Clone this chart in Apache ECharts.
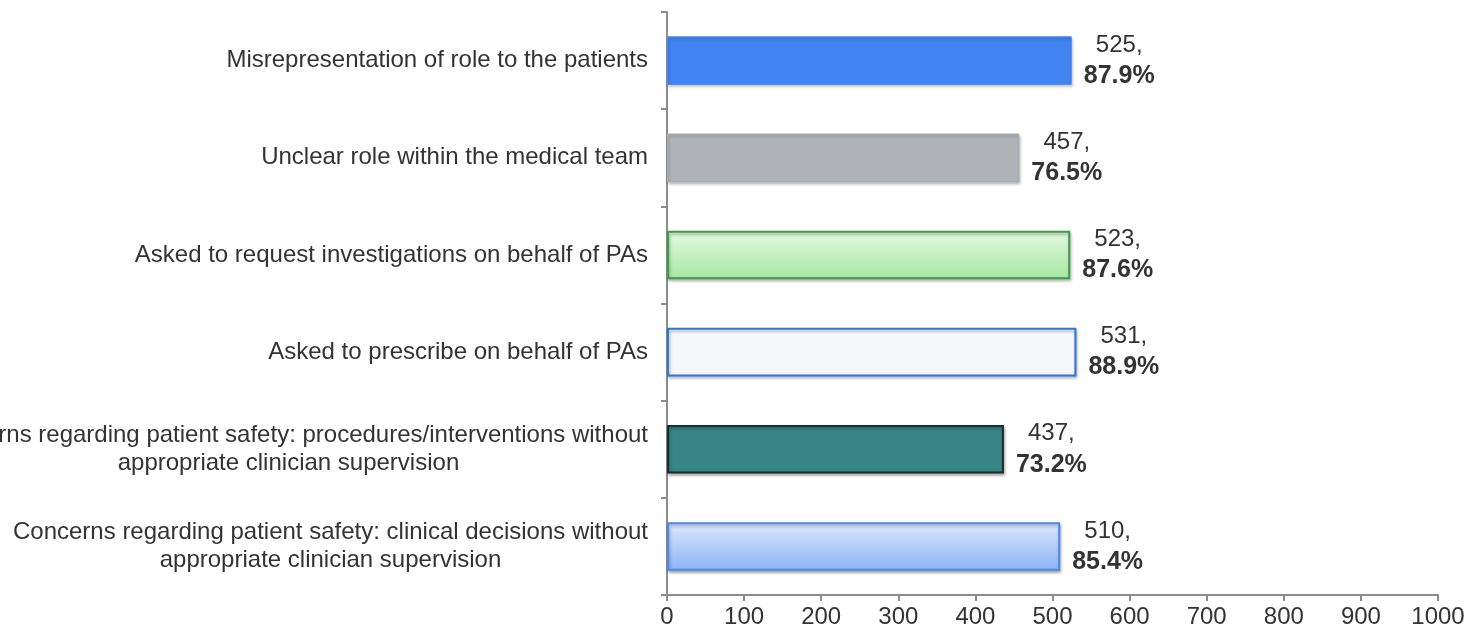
<!DOCTYPE html>
<html>
<head>
<meta charset="utf-8">
<script src="https://cdn.jsdelivr.net/npm/echarts@6/dist/echarts.min.js"></script>
<style>
  html, body { margin: 0; padding: 0; background: #fff; }
  #main { width: 1478px; height: 632px; }
</style>
</head>
<body>
<div id="main"></div>
<script>
// categories (top to bottom)
var categories = [
  'Misrepresentation of role to the patients',
  'Unclear role within the medical team',
  'Asked to request investigations on behalf of PAs',
  'Asked to prescribe on behalf of PAs',
  'Concerns regarding patient safety: procedures/interventions without\nappropriate clinician supervision',
  'Concerns regarding patient safety: clinical decisions without\nappropriate clinician supervision'
];
var counts = [525, 457, 523, 531, 437, 510];
var percents = ['87.9%', '76.5%', '87.6%', '88.9%', '73.2%', '85.4%'];
var xTicks = [0, 100, 200, 300, 400, 500, 600, 700, 800, 900, 1000];

var FONT = 'Liberation Sans, Arial, sans-serif';

function grad(top, bottom) {
  return new echarts.graphic.LinearGradient(0, 0, 0, 1, [
    { offset: 0, color: top },
    { offset: 1, color: bottom }
  ]);
}

// bar looks, one per category
var barStyles = [
  { color: '#4285f2', borderColor: '#4a8cf0', borderWidth: 1 },
  { color: '#b0b3b7', borderColor: '#a9acb0', borderWidth: 1 },
  { color: grad('#e4f9e2', '#a5e7a3'), borderColor: '#3d9b46', borderWidth: 2 },
  { color: '#f5f7fa', borderColor: '#2b78d3', borderWidth: 2 },
  { color: '#378585', borderColor: '#1e2a2a', borderWidth: 2 },
  { color: grad('#dde8fc', '#8db3f6'), borderColor: '#4c88ee', borderWidth: 2 }
];

var chart = echarts.init(document.getElementById('main'), null, { renderer: 'canvas' });

var option = {
  animation: false,
  grid: { left: 667, right: 40, top: 12, bottom: 37, containLabel: false, outerBoundsMode: 'none' },
  xAxis: {
    type: 'value',
    min: 0,
    max: 1000,
    interval: 100,
    splitLine: { show: false },
    axisLine: { show: true, lineStyle: { color: '#8c8c8c', width: 2 } },
    axisTick: { show: true, length: 6, lineStyle: { color: '#8c8c8c', width: 2 } },
    axisLabel: {
      color: '#333',
      fontSize: 24,
      fontFamily: FONT,
      margin: 10,
      formatter: function (v) { return xTicks.indexOf(v) >= 0 ? String(v) : ''; }
    }
  },
  yAxis: {
    type: 'category',
    inverse: true,
    data: categories,
    axisLine: { show: true, lineStyle: { color: '#8c8c8c', width: 2 } },
    axisTick: { show: true, length: 6, lineStyle: { color: '#8c8c8c', width: 2 } },
    axisLabel: {
      margin: 19,
      fontSize: 24,
      color: '#333',
      fontFamily: FONT,
      formatter: function (v) {
        return v.split('\n').map(function (l) { return '{c|' + l + '}'; }).join('\n');
      },
      rich: {
        c: { align: 'center', fontSize: 24, lineHeight: 28, color: '#333', fontFamily: FONT }
      }
    }
  },
  series: [{
    type: 'bar',
    barCategoryGap: '50%',
    data: counts.map(function (v, i) {
      return {
        value: v,
        itemStyle: Object.assign({
          shadowBlur: 3,
          shadowOffsetX: 1,
          shadowOffsetY: 2,
          shadowColor: 'rgba(0,0,0,0.3)'
        }, barStyles[i])
      };
    }),
    label: {
      show: true,
      position: 'right',
      distance: 12,
      formatter: function (p) {
        return '{n|' + p.value + ',}\n{b|' + percents[p.dataIndex] + '}';
      },
      rich: {
        n: { align: 'center', fontSize: 24, lineHeight: 31, color: '#333', fontFamily: FONT },
        b: { align: 'center', fontSize: 25, lineHeight: 31, fontWeight: 'bold', color: '#333', fontFamily: FONT }
      }
    }
  }]
};

chart.setOption(option);
</script>
</body>
</html>
